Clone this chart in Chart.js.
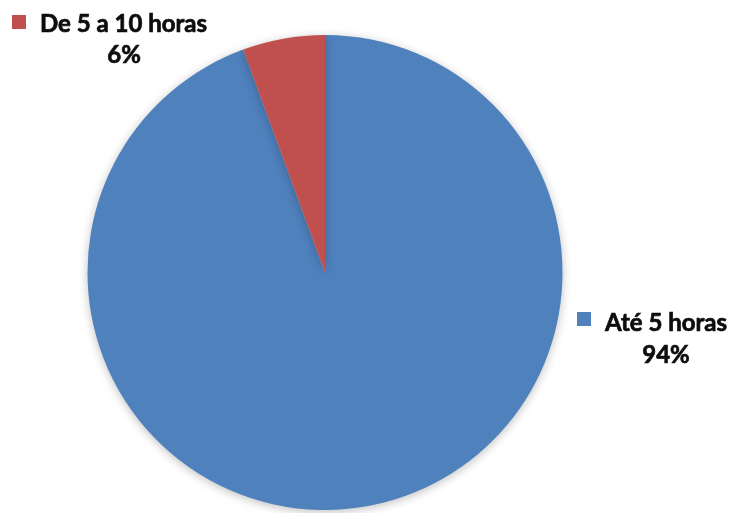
<!DOCTYPE html>
<html>
<head>
<meta charset="utf-8">
<script src="https://cdn.jsdelivr.net/npm/chart.js@4/dist/chart.umd.min.js"></script>
<style>
html,body{margin:0;padding:0;background:#fff;}
#wrap{width:734px;height:513px;position:relative;}
</style>
</head>
<body>
<div id="wrap"><canvas id="c" width="734" height="513"></canvas></div>
<script>
const categories = ["Até 5 horas", "De 5 a 10 horas"];
const values = [94.4, 5.6];
const colors = ["#4F81BD", "#C0504D"];

// label placement (layout only)
const labelPos = [
  {sq:[577,312], name:[605,331], pct:[666,363]},
  {sq:[12,15], name:[40,32], pct:[124,63]}
];

const labelPlugin = {
  id: 'outerLabels',
  afterDraw(chart) {
    const ctx = chart.ctx;
    const total = values.reduce((a,b)=>a+b,0);
    ctx.save();
    categories.forEach((cat, i) => {
      const p = labelPos[i];
      ctx.fillStyle = colors[i];
      ctx.fillRect(p.sq[0], p.sq[1], 14, 14);
      ctx.fillStyle = '#0d0d0d';
      ctx.strokeStyle = '#0d0d0d';
      ctx.lineWidth = 0.7;
      ctx.font = 'bold 24px Lato, "Open Sans", sans-serif';
      ctx.textBaseline = 'alphabetic';
      ctx.textAlign = 'left';
      ctx.fillText(cat, p.name[0], p.name[1]);
      ctx.strokeText(cat, p.name[0], p.name[1]);
      ctx.textAlign = 'center';
      const pct = Math.round(values[i] / total * 100) + '%';
      ctx.fillText(pct, p.pct[0], p.pct[1]);
      ctx.strokeText(pct, p.pct[0], p.pct[1]);
    });
    ctx.restore();
  }
};

const shadowPlugin = {
  id: 'shadow',
  beforeDatasetsDraw(chart) {
    const ctx = chart.ctx;
    ctx.save();
    ctx.shadowColor = 'rgba(0,0,0,0.25)';
    ctx.shadowBlur = 10;
    ctx.shadowOffsetX = 0;
    ctx.shadowOffsetY = 2;
  },
  afterDatasetsDraw(chart) {
    chart.ctx.restore();
  }
};

new Chart(document.getElementById('c'), {
  type: 'pie',
  data: {
    labels: categories,
    datasets: [{
      data: values,
      backgroundColor: colors,
      borderWidth: 0
    }]
  },
  options: {
    responsive: false,
    animation: false,
    layout: { padding: { top: 35, bottom: 3, left: 87, right: 171 } },
    plugins: {
      legend: { display: false },
      tooltip: { enabled: false }
    }
  },
  plugins: [shadowPlugin, labelPlugin]
});
</script>
</body>
</html>
